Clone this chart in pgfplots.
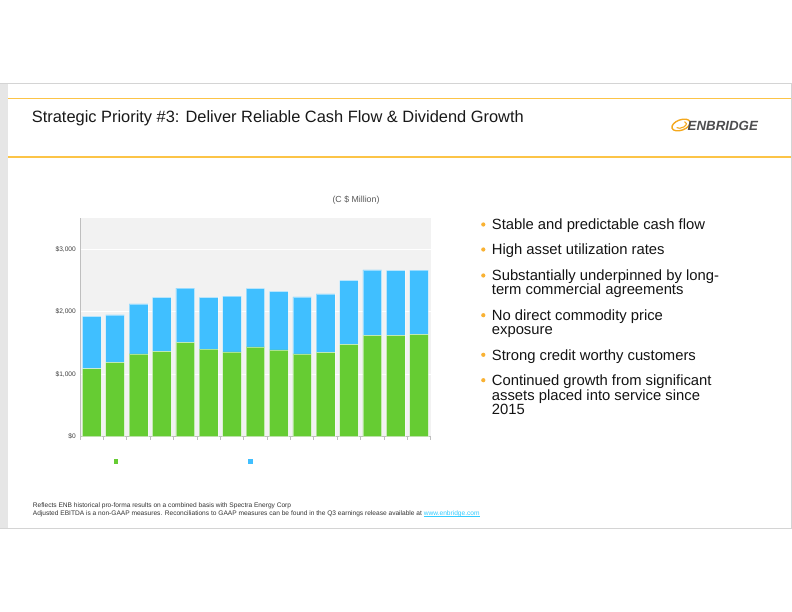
\documentclass[border=0pt]{standalone}
\usepackage{pgfplots}
\pgfplotsset{compat=1.18}
\usepackage{pgfplotstable}
\usepackage{fontspec}
\setmainfont{Liberation Sans}
\definecolor{ebgreen}{HTML}{66CC33}
\definecolor{ebblue}{HTML}{40BFFF}
\definecolor{plotbg}{HTML}{F2F2F2}
\definecolor{axisgrey}{HTML}{BFBFBF}
\definecolor{framegrey}{HTML}{D4D4D4}
\definecolor{stripgrey}{HTML}{E6E6E6}
\definecolor{orangeline}{HTML}{FCC447}
\definecolor{bulletorange}{HTML}{F9B233}
\definecolor{logoorange}{HTML}{F4A81D}
\definecolor{logogrey}{HTML}{4D4D4F}
\definecolor{labelgrey}{HTML}{595959}
\definecolor{linkblue}{HTML}{33CCFF}

\pgfplotsset{sqlegend/.style={legend image code/.code={\fill[##1, draw=none] (0bp,-2.35bp) rectangle (4.7bp,2.35bp);}}}

\pgfplotstableread{
x green blue
0 1089 838
1 1190 764
2 1329 801
3 1367 864
4 1511 870
5 1404 827
6 1361 892
7 1441 934
8 1393 934
9 1329 913
10 1351 939
11 1479 1025
12 1623 1051
13 1623 1041
14 1639 1030
}\datatable

\newcommand\bline[2]{\node[anchor=base west, inner sep=0pt, font=\fontsize{14.8bp}{16bp}\selectfont, text=black!92] at (491.7,612-#1) {#2};}
\newcommand\bdot[1]{\fill[bulletorange] (483.3,612-#1+5.5) circle (2.1);}
\newsavebox\linkbox
\newcommand\ulink[1]{{\color{linkblue}\sbox\linkbox{#1}\rlap{\rule[-0.9bp]{\wd\linkbox}{0.4bp}}\usebox\linkbox}}

\begin{document}
\begin{tikzpicture}[x=1bp,y=1bp]
\useasboundingbox (0,0) rectangle (792,612);
\fill[white] (0,0) rectangle (792,612);
% slide frame
\fill[stripgrey] (0,612-83.3) rectangle (8,612-528.3);
\draw[framegrey, line width=1.2bp] (0,612-83.3) -- (791.2,612-83.3) -- (791.2,612-528.3) -- (0,612-528.3);
\draw[orangeline, line width=1.6bp] (8,612-98.5) -- (790.6,612-98.5);
\draw[orangeline, line width=1.6bp] (8,612-157) -- (790.6,612-157);
% title
\node[anchor=base west, inner sep=0pt, font=\fontsize{16.4bp}{18bp}\selectfont, text=black!90] at (31.7,612-122.3) {Strategic Priority \#3: Deliver Reliable Cash Flow \& Dividend Growth};
% logo
\begin{scope}[shift={(681,612-125)}, rotate=20]
\draw[logoorange, line width=1.4bp] (0,0) ellipse (9.5 and 5.2);
\draw[logoorange, line width=1.1bp] (-5,-1) arc (200:400:5.5 and 3);
\end{scope}
\node[anchor=west, inner sep=0pt, font=\fontsize{13.3bp}{14bp}\selectfont\bfseries\itshape, text=logogrey] at (687.5,612-126) {ENBRIDGE};
% unit label
\node[font=\fontsize{8.8bp}{9bp}\selectfont, text=labelgrey] at (356,612-200) {(C \$ Million)};

\begin{axis}[
  at={(80bp,175.3bp)}, anchor=south west,
  scale only axis, width=350.7bp, height=218.4bp,
  ybar stacked, bar width=0.8,
  xmin=-0.5, xmax=14.5, ymin=0, ymax=3500,
  xtick={-0.5,0.5,...,14.5}, xticklabels={},
  ytick={0,1000,2000,3000}, yticklabels={{\$0},{\$1,000},{\$2,000},{\$3,000}},
  axis x line*=bottom, axis y line*=left,
  axis line style={axisgrey, line width=0.8bp},
  tick align=outside, major tick length=3bp,
  xtick style={axisgrey, line width=0.8bp},
  ytick style={draw=none},
  yticklabel style={font=\fontsize{6.6bp}{7bp}\selectfont, text=black!75, inner sep=1bp},
  ymajorgrids, major grid style={white, line width=1.2bp},
  axis background/.style={fill=plotbg},
  legend columns=2,
  legend style={at={(axis description cs:0,0)}, anchor=west, xshift=33.65bp, yshift=-25bp, draw=none, fill=none, inner sep=0pt, outer sep=0pt, nodes={inner sep=0pt, outer sep=0pt}, font=\tiny},
]
\addplot[fill=ebgreen, draw=white, draw opacity=0.45, line width=0.5bp, sqlegend]
  table[x=x, y=green]{\datatable};
\addlegendentry{\hspace*{130bp}}
\addplot[fill=ebblue, draw=white, draw opacity=0.45, line width=0.5bp, sqlegend]
  table[x=x, y=blue]{\datatable};
\addlegendentry{}
\end{axis}

% bullets
\bdot{230}\bline{230}{Stable and predictable cash flow}
\bdot{255}\bline{255}{High asset utilization rates}
\bdot{281}\bline{281}{Substantially underpinned by long-}
\bline{295}{term commercial agreements}
\bdot{320.7}\bline{320.7}{No direct commodity price}
\bline{335}{exposure}
\bdot{360.3}\bline{360.3}{Strong credit worthy customers}
\bdot{385.7}\bline{385.7}{Continued growth from significant}
\bline{400.3}{assets placed into service since}
\bline{415}{2015}

% footnote
\node[anchor=base west, inner sep=0pt, font=\fontsize{6.6bp}{7bp}\selectfont, text=black!80] at (32.7,612-508) {Reflects ENB historical pro-forma results on a combined basis with Spectra Energy Corp};
\node[anchor=base west, inner sep=0pt, font=\fontsize{6.6bp}{7bp}\selectfont, text=black!80] at (32.7,612-516) {Adjusted EBITDA is a non-GAAP measures. Reconciliations to GAAP measures can be found in the Q3 earnings release available at \ulink{www.enbridge.com}};
\end{tikzpicture}
\end{document}
